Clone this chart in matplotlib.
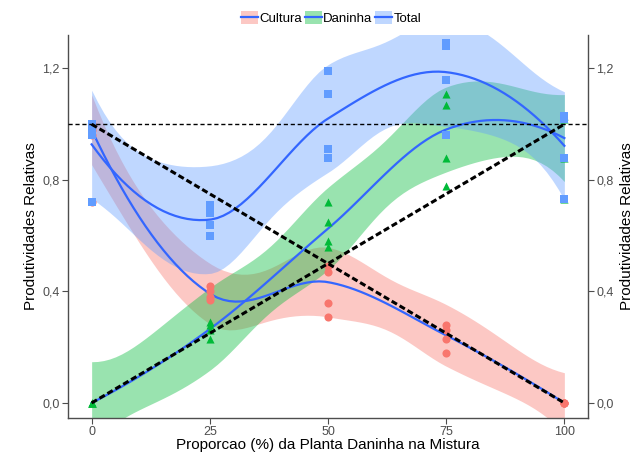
import numpy as np
import matplotlib
matplotlib.use("Agg")
import matplotlib.pyplot as plt
from matplotlib.patches import Patch
from matplotlib.lines import Line2D
from math import lgamma, pi, sqrt, exp

plt.rcParams["font.family"] = ["Liberation Sans", "DejaVu Sans"]

# relative productivity per replicate, by weed proportion in the mix (%)
cultura_x = [0, 0, 0, 0, 25, 25, 25, 25, 50, 50, 50, 50, 75, 75, 75, 75, 100, 100, 100, 100]
cultura_y = [1.00, 0.98, 0.96, 0.72, 0.42, 0.40, 0.38, 0.37, 0.49, 0.47, 0.36, 0.31,
             0.28, 0.26, 0.23, 0.18, 0.0, 0.0, 0.0, 0.0]

daninha_x = [0, 0, 0, 0, 25, 25, 25, 25, 50, 50, 50, 50, 75, 75, 75, 75, 100, 100, 100, 100]
daninha_y = [0.0, 0.0, 0.0, 0.0, 0.29, 0.28, 0.26, 0.23, 0.72, 0.65, 0.58, 0.56,
             1.11, 1.07, 0.88, 0.78, 1.03, 1.02, 0.88, 0.73]

total_x = [0, 0, 0, 0, 25, 25, 25, 25, 50, 50, 50, 50, 75, 75, 75, 75, 100, 100, 100, 100]
total_y = [1.00, 0.98, 0.96, 0.72, 0.71, 0.68, 0.64, 0.60, 1.19, 1.11, 0.91, 0.88,
           1.29, 1.28, 1.16, 0.96, 1.03, 1.02, 0.88, 0.73]

series_names = ["Cultura", "Daninha", "Total"]
fills = ["#F8766D", "#00BA38", "#619CFF"]
markers = ["o", "^", "s"]
line_blue = "#3366FF"
y_ticks = [0.0, 0.4, 0.8, 1.2]
x_ticks = [0, 25, 50, 75, 100]
level = 0.99


def t_quantile(p, df):
    c = exp(lgamma((df + 1) / 2) - lgamma(df / 2)) / sqrt(df * pi)

    def cdf(t):
        u = np.linspace(0, t, 4001)
        f = c * (1 + u ** 2 / df) ** (-(df + 1) / 2)
        return 0.5 + np.trapezoid(f, u)

    lo, hi = 0.0, 30.0
    for _ in range(60):
        mid = (lo + hi) / 2
        if cdf(mid) < p:
            lo = mid
        else:
            hi = mid
    return (lo + hi) / 2


def local_rows(x, w, x0, q):
    # value and slope operators of a weighted local quadratic at x0
    d = np.abs(x - x0)
    h = np.sort(d)[q - 1]
    tw = np.clip(1 - (d / h) ** 3, 0, None) ** 3 * w
    X = np.column_stack([np.ones(len(x)), x - x0, (x - x0) ** 2])
    XtW = X.T * tw
    B = np.linalg.pinv(XtW @ X) @ XtW
    return B[0], B[1]


def operator(x, w, pts, q):
    # kd-tree vertices at the distinct x values, cubic Hermite in between
    span = x.max() - x.min()
    verts = np.unique(np.concatenate([[x.min() - 0.005 * span], x, [x.max() + 0.005 * span]]))
    vals, slopes = zip(*[local_rows(x, w, v, q) for v in verts])
    vals, slopes = np.array(vals), np.array(slopes)
    rows = []
    for p in pts:
        i = min(max(np.searchsorted(verts, p) - 1, 0), len(verts) - 2)
        a, b = verts[i], verts[i + 1]
        hh = b - a
        t = (p - a) / hh
        h00 = 2 * t ** 3 - 3 * t ** 2 + 1
        h10 = t ** 3 - 2 * t ** 2 + t
        h01 = -2 * t ** 3 + 3 * t ** 2
        h11 = t ** 3 - t ** 2
        rows.append(h00 * vals[i] + h10 * hh * slopes[i] + h01 * vals[i + 1] + h11 * hh * slopes[i + 1])
    return np.array(rows)


def robust_weights(res):
    r = np.abs(res)
    cmad = 6 * np.median(r)
    out = np.where(r > 0.999 * cmad, 0.0, (1 - (r / cmad) ** 2) ** 2)
    return np.where(r <= 0.001 * cmad, 1.0, out)


def loess_symmetric(x, y, grid, span=0.75, iterations=4):
    x = np.asarray(x, float)
    y = np.asarray(y, float)
    n = len(x)
    q = int(np.floor(n * span))
    ones = np.ones(n)

    # plain fit: residual scale and degrees of freedom
    L0 = operator(x, ones, x, q)
    R0 = np.eye(n) - L0
    M = R0.T @ R0
    d1, d2 = np.trace(M), np.trace(M @ M)
    s = np.sqrt(np.sum((R0 @ y) ** 2) / d1)

    # bisquare reweighting for the curve itself
    rob = ones.copy()
    for j in range(iterations - 1):
        res = y - operator(x, rob, x, q) @ y
        rob = robust_weights(res)

    G = operator(x, rob, grid, q)
    fit = G @ y
    se = s * np.sqrt((G ** 2).sum(axis=1))
    t = t_quantile(level / 2 + 0.5, d1 ** 2 / d2)
    return fit, fit - t * se, fit + t * se


fig = plt.figure(figsize=(6.34, 4.58), dpi=100)
ax = fig.add_axes([68 / 634, 40 / 458, 520 / 634, 383 / 458])

grid = np.linspace(0, 100, 80)
data = [(cultura_x, cultura_y), (daninha_x, daninha_y), (total_x, total_y)]
for (xs, ys), col in zip(data, fills):
    fit, lo, hi = loess_symmetric(xs, ys, grid)
    ax.fill_between(grid, lo, hi, color=col, alpha=0.4, lw=0, zorder=1)
    ax.plot(grid, fit, color=line_blue, lw=1.6, zorder=2)

for (xs, ys), col, m in zip(data, fills, markers):
    ax.scatter(xs, ys, color=col, marker=m, s=34, lw=0, zorder=3)

ax.axhline(1.0, color="black", ls=(0, (3, 2)), lw=1.0, zorder=4)
ax.plot([0, 100], [1, 0], color="black", ls=(0, (2, 1)), lw=2.2, zorder=4)
ax.plot([0, 100], [0, 1], color="black", ls=(0, (2, 1)), lw=2.2, zorder=4)

ax.set_xlim(-5, 105)
ax.set_ylim(-0.054, 1.32)
ax.set_xticks(x_ticks)
ax.set_yticks(y_ticks)
ax.set_yticklabels([f"{v:.1f}".replace(".", ",") for v in y_ticks])
ax.tick_params(colors="#4D4D4D", labelsize=9, length=4, width=0.8, pad=2,
               right=True, labelright=True)
for side in ["left", "right", "bottom"]:
    ax.spines[side].set_color("#4D4D4D")
    ax.spines[side].set_linewidth(1.0)
ax.spines["top"].set_visible(False)

ax.set_xlabel("Proporcao (%) da Planta Daninha na Mistura", fontsize=11, labelpad=0)
ax.set_ylabel("Produtividades Relativas", fontsize=11, labelpad=3)
fig.text(627 / 634, 1 - 226 / 458, "Produtividades Relativas",
         rotation=90, fontsize=11, ha="center", va="center")

handles = [(Patch(facecolor=c, alpha=0.4, lw=0), Line2D([], [], color=line_blue, lw=1.6))
           for c in fills]
fig.legend(handles, series_names, loc="center", bbox_to_anchor=(331 / 634, 1 - 18 / 458),
           ncol=3, frameon=False, fontsize=9.5, handlelength=1.3, handleheight=1.1,
           handletextpad=0.1, columnspacing=0.2, borderaxespad=0)

fig.savefig("out.png", dpi=100)
